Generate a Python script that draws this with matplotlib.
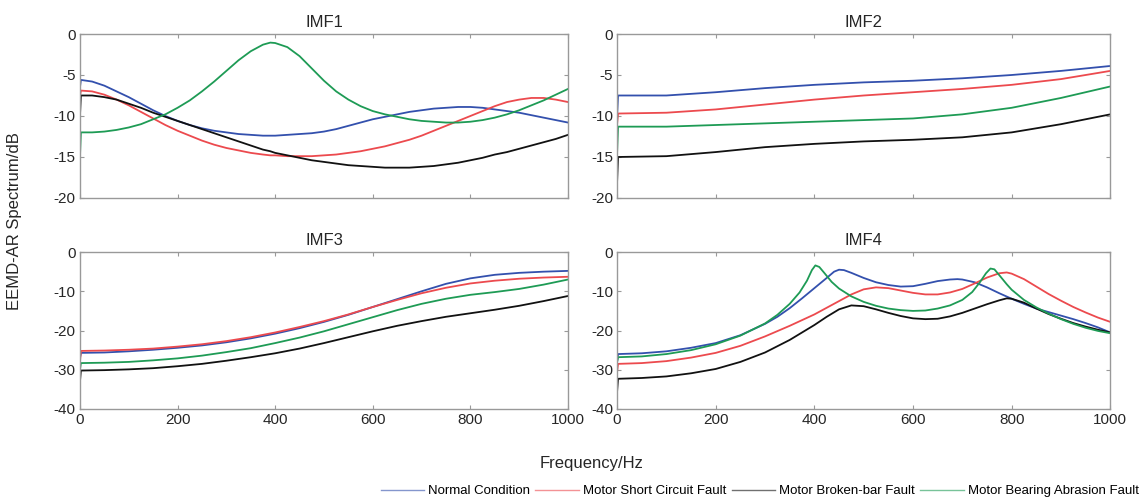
import matplotlib.pyplot as plt

plt.rcParams['font.family'] = ['Liberation Sans', 'DejaVu Sans']
plt.rcParams['axes.unicode_minus'] = False

titles = ['IMF1', 'IMF2', 'IMF3', 'IMF4']
labels = ['Normal Condition', 'Motor Short Circuit Fault',
          'Motor Broken-bar Fault', 'Motor Bearing Abrasion Fault']
colors = ['#3350ad', '#ec4a4e', '#111111', '#1e9b55']

# IMF1 (first point is the drop right at 0 Hz)
f1 = [0, 2, 25, 50, 75, 100, 125, 150, 175, 200, 225, 250, 275, 300, 325, 350, 375,
      390, 400, 425, 450, 475, 500, 525, 550, 575, 600, 625, 650, 675, 700, 725, 750,
      775, 800, 825, 850, 875, 900, 925, 950, 975, 1000]
imf1_normal = [-6.5, -5.6, -5.8, -6.3, -7.0, -7.7, -8.5, -9.3, -10.0, -10.6, -11.1,
               -11.5, -11.8, -12.0, -12.2, -12.3, -12.4, -12.4, -12.4, -12.3, -12.2,
               -12.1, -11.9, -11.6, -11.2, -10.8, -10.4, -10.1, -9.8, -9.5, -9.3, -9.1,
               -9.0, -8.9, -8.9, -9.0, -9.2, -9.4, -9.6, -9.9, -10.2, -10.5, -10.8]
imf1_short = [-7.6, -6.9, -7.0, -7.4, -8.0, -8.7, -9.5, -10.3, -11.1, -11.8, -12.4,
              -13.0, -13.5, -13.9, -14.2, -14.5, -14.7, -14.8, -14.8, -14.9, -14.9,
              -14.9, -14.8, -14.7, -14.5, -14.3, -14.0, -13.7, -13.3, -12.9, -12.4,
              -11.8, -11.2, -10.6, -10.0, -9.4, -8.8, -8.3, -8.0, -7.8, -7.8, -8.0, -8.3]
imf1_broken = [-10.0, -7.5, -7.5, -7.7, -8.0, -8.5, -9.0, -9.6, -10.1, -10.6, -11.1,
               -11.6, -12.1, -12.6, -13.1, -13.6, -14.1, -14.3, -14.5, -14.8, -15.1,
               -15.4, -15.6, -15.8, -16.0, -16.1, -16.2, -16.3, -16.3, -16.3, -16.2,
               -16.1, -15.9, -15.7, -15.4, -15.1, -14.7, -14.4, -14.0, -13.6, -13.2,
               -12.8, -12.3]
imf1_bearing = [-15.0, -12.0, -12.0, -11.9, -11.7, -11.4, -11.0, -10.4, -9.8, -9.0,
                -8.1, -7.0, -5.8, -4.5, -3.2, -2.1, -1.3, -1.05, -1.1, -1.6, -2.7,
                -4.2, -5.7, -7.0, -8.0, -8.8, -9.4, -9.8, -10.1, -10.4, -10.6, -10.7,
                -10.8, -10.8, -10.7, -10.5, -10.2, -9.8, -9.3, -8.7, -8.1, -7.4, -6.7]

# IMF2
f2 = [0, 2, 100, 200, 300, 400, 500, 600, 700, 800, 900, 1000]
imf2_normal = [-10.0, -7.5, -7.5, -7.1, -6.6, -6.2, -5.9, -5.7, -5.4, -5.0, -4.5, -3.9]
imf2_short = [-11.0, -9.7, -9.6, -9.2, -8.6, -8.0, -7.5, -7.1, -6.7, -6.2, -5.5, -4.5]
imf2_broken = [-18.0, -15.0, -14.9, -14.4, -13.8, -13.4, -13.1, -12.9, -12.6, -12.0,
               -11.0, -9.8]
imf2_bearing = [-14.5, -11.3, -11.3, -11.1, -10.9, -10.7, -10.5, -10.3, -9.8, -9.0,
                -7.8, -6.4]

# IMF3
f3 = [0, 2, 50, 100, 150, 200, 250, 300, 350, 400, 450, 500, 550, 600, 650, 700,
      750, 800, 850, 900, 950, 1000]
imf3_normal = [-27.0, -25.7, -25.6, -25.3, -24.9, -24.4, -23.8, -23.0, -22.0, -20.8,
               -19.4, -17.8, -16.0, -14.0, -12.0, -10.0, -8.1, -6.7, -5.8, -5.3, -5.0,
               -4.8]
imf3_short = [-28.0, -25.2, -25.1, -24.9, -24.6, -24.1, -23.5, -22.7, -21.7, -20.5,
              -19.1, -17.6, -15.9, -14.0, -12.2, -10.5, -9.1, -8.0, -7.3, -6.8, -6.5,
              -6.3]
imf3_broken = [-33.0, -30.2, -30.1, -29.9, -29.6, -29.1, -28.5, -27.7, -26.8, -25.8,
               -24.6, -23.2, -21.7, -20.2, -18.8, -17.6, -16.5, -15.6, -14.7, -13.7,
               -12.5, -11.2]
imf3_bearing = [-30.0, -28.3, -28.2, -28.0, -27.6, -27.1, -26.4, -25.5, -24.5, -23.2,
                -21.8, -20.2, -18.4, -16.6, -14.8, -13.2, -11.9, -10.9, -10.2, -9.4,
                -8.3, -7.0]

# IMF4 (each series has its own frequency points around the peaks)
f4_normal = [0, 2, 50, 100, 150, 200, 250, 300, 325, 350, 375, 400, 425, 440, 450, 460,
             475, 500, 525, 550, 575, 600, 625, 650, 675, 690, 700, 725, 750, 775, 800,
             825, 850, 875, 900, 925, 950, 975, 1000]
imf4_normal = [-28.0, -26.0, -25.8, -25.3, -24.4, -23.2, -21.2, -18.3, -16.5, -14.3,
               -11.8, -9.2, -6.6, -5.0, -4.5, -4.6, -5.3, -6.6, -7.7, -8.4, -8.8, -8.7,
               -8.1, -7.4, -7.0, -6.9, -7.0, -7.7, -9.0, -10.5, -11.9, -13.2, -14.4,
               -15.3, -16.2, -17.1, -18.1, -19.2, -20.5]
f4_short = [0, 2, 50, 100, 150, 200, 250, 300, 350, 400, 425, 450, 475, 500, 525, 550,
            575, 600, 625, 650, 675, 700, 725, 750, 775, 790, 800, 825, 850, 875, 900,
            925, 950, 975, 1000]
imf4_short = [-30.5, -28.5, -28.3, -27.8, -26.9, -25.7, -23.9, -21.5, -18.8, -15.9,
              -14.2, -12.5, -10.8, -9.5, -9.0, -9.2, -9.8, -10.4, -10.8, -10.8, -10.3,
              -9.4, -8.0, -6.5, -5.4, -5.2, -5.5, -6.9, -8.8, -10.7, -12.4, -14.0, -15.4,
              -16.7, -17.8]
f4_broken = [0, 2, 50, 100, 150, 200, 250, 300, 350, 400, 425, 450, 475, 500, 525, 550,
             575, 600, 625, 650, 675, 700, 725, 750, 775, 790, 800, 825, 850, 875, 900,
             925, 950, 975, 1000]
imf4_broken = [-35.5, -32.3, -32.1, -31.7, -30.9, -29.8, -28.0, -25.6, -22.4, -18.6,
               -16.5, -14.6, -13.6, -13.8, -14.6, -15.5, -16.3, -16.9, -17.1, -17.0,
               -16.4, -15.5, -14.4, -13.3, -12.3, -11.8, -11.9, -12.9, -14.4, -15.8,
               -17.0, -18.1, -19.0, -19.8, -20.5]
f4_bearing = [0, 2, 50, 100, 150, 200, 250, 300, 325, 350, 370, 385, 395, 402, 410, 420,
              435, 450, 475, 500, 525, 550, 575, 600, 625, 650, 675, 700, 720, 735, 748,
              757, 765, 775, 790, 800, 825, 850, 875, 900, 925, 950, 975, 1000]
imf4_bearing = [-28.0, -26.8, -26.6, -26.0, -25.0, -23.5, -21.3, -18.2, -16.0, -13.2,
                -10.3, -7.3, -4.6, -3.4, -3.8, -5.3, -7.6, -9.3, -11.3, -12.7, -13.7,
                -14.4, -14.8, -15.0, -14.9, -14.4, -13.6, -12.2, -10.2, -7.8, -5.4, -4.2,
                -4.4, -5.9, -8.2, -9.6, -12.2, -14.1, -15.7, -17.1, -18.3, -19.3, -20.1,
                -20.7]

panels = [
    ([f1] * 4, [imf1_normal, imf1_short, imf1_broken, imf1_bearing], (-20, 0), [-20, -15, -10, -5, 0]),
    ([f2] * 4, [imf2_normal, imf2_short, imf2_broken, imf2_bearing], (-20, 0), [-20, -15, -10, -5, 0]),
    ([f3] * 4, [imf3_normal, imf3_short, imf3_broken, imf3_bearing], (-40, 0), [-40, -30, -20, -10, 0]),
    ([f4_normal, f4_short, f4_broken, f4_bearing],
     [imf4_normal, imf4_short, imf4_broken, imf4_bearing], (-40, 0), [-40, -30, -20, -10, 0]),
]

fig = plt.figure(figsize=(11.47, 5.03), dpi=100)
rects = [
    [0.0697, 0.6064, 0.4255, 0.326],
    [0.538, 0.6064, 0.430, 0.326],
    [0.0697, 0.1869, 0.4255, 0.312],
    [0.538, 0.1869, 0.430, 0.312],
]

lines = []
for i, (freqs, series, ylim, yticks) in enumerate(panels):
    ax = fig.add_axes(rects[i])
    for freq, vals, c, lab in zip(freqs, series, colors, labels):
        ln, = ax.plot(freq, vals, color=c, lw=1.3, label=lab)
        if i == 0:
            lines.append(ln)
    ax.set_xlim(0, 1000)
    ax.set_ylim(*ylim)
    ax.set_yticks(yticks)
    ax.set_xticks([0, 200, 400, 600, 800, 1000])
    ax.set_title(titles[i], fontsize=12, color='#262626', pad=5)
    ax.tick_params(direction='in', top=True, right=True, length=3,
                   labelsize=11, colors='#999999', labelcolor='#262626', pad=3)
    if i < 2:
        ax.tick_params(labelbottom=False)
    for sp in ax.spines.values():
        sp.set_color('#999999')
        sp.set_linewidth(1.0)

fig.text(0.013, 0.56, 'EEMD-AR Spectrum/dB', rotation=90, ha='center', va='center',
         fontsize=12, color='#262626')
fig.text(0.516, 0.078, 'Frequency/Hz', ha='center', va='center', fontsize=12,
         color='#262626')

leg = fig.legend(handles=lines, labels=labels, loc='lower right', ncol=4,
                 bbox_to_anchor=(1.003, -0.012), frameon=False, fontsize=9.5,
                 handlelength=3.3, handletextpad=0.3, columnspacing=0.4)
for h in leg.get_lines():
    h.set_linewidth(1.0)
    h.set_alpha(0.6)

plt.savefig('out.png', dpi=100)
plt.close()
